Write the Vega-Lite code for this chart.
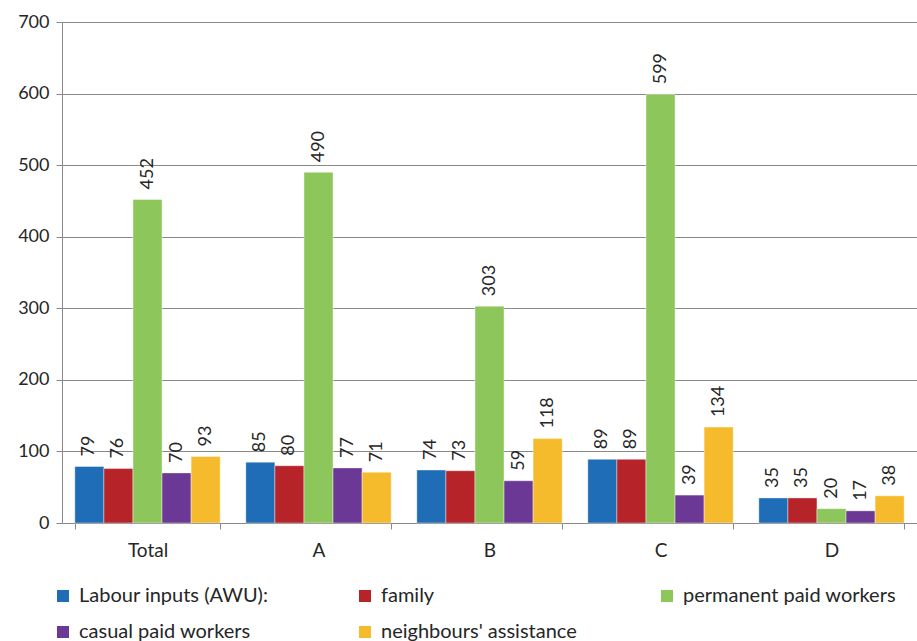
{
  "$schema": "https://vega.github.io/schema/vega-lite/v6.json",
  "width": 855,
  "height": 501,
  "autosize": {"type": "none"},
  "padding": {"left": 62, "top": 22, "right": 0, "bottom": 118},
  "config": {
    "font": "Lato",
    "view": {"stroke": null},
    "axis": {"labelFont": "Lato", "labelColor": "#262626", "labelFontSize": 18}
  },
  "data": {
    "values": [
      {"region": "Total", "series": "Labour inputs (AWU):", "value": 79},
      {"region": "Total", "series": "family", "value": 76},
      {"region": "Total", "series": "permanent paid workers", "value": 452},
      {"region": "Total", "series": "casual paid workers", "value": 70},
      {"region": "Total", "series": "neighbours' assistance", "value": 93},
      {"region": "A", "series": "Labour inputs (AWU):", "value": 85},
      {"region": "A", "series": "family", "value": 80},
      {"region": "A", "series": "permanent paid workers", "value": 490},
      {"region": "A", "series": "casual paid workers", "value": 77},
      {"region": "A", "series": "neighbours' assistance", "value": 71},
      {"region": "B", "series": "Labour inputs (AWU):", "value": 74},
      {"region": "B", "series": "family", "value": 73},
      {"region": "B", "series": "permanent paid workers", "value": 303},
      {"region": "B", "series": "casual paid workers", "value": 59},
      {"region": "B", "series": "neighbours' assistance", "value": 118},
      {"region": "C", "series": "Labour inputs (AWU):", "value": 89},
      {"region": "C", "series": "family", "value": 89},
      {"region": "C", "series": "permanent paid workers", "value": 599},
      {"region": "C", "series": "casual paid workers", "value": 39},
      {"region": "C", "series": "neighbours' assistance", "value": 134},
      {"region": "D", "series": "Labour inputs (AWU):", "value": 35},
      {"region": "D", "series": "family", "value": 35},
      {"region": "D", "series": "permanent paid workers", "value": 20},
      {"region": "D", "series": "casual paid workers", "value": 17},
      {"region": "D", "series": "neighbours' assistance", "value": 38}
    ]
  },
  "encoding": {
    "x": {
      "field": "region", "type": "nominal", "sort": ["Total", "A", "B", "C", "D"],
      "scale": {"paddingInner": 0.15, "paddingOuter": 0.075},
      "axis": {"title": null, "labelAngle": 0, "tickBand": "extent", "tickSize": 6, "tickColor": "#898989", "domainColor": "#898989", "labelPadding": 12, "labelFontSize": 19}
    },
    "xOffset": {
      "field": "series", "type": "nominal",
      "sort": ["Labour inputs (AWU):", "family", "permanent paid workers", "casual paid workers", "neighbours' assistance"],
      "scale": {"paddingInner": 0, "paddingOuter": 0}
    },
    "y": {
      "field": "value", "type": "quantitative",
      "scale": {"domain": [0, 700], "nice": false},
      "axis": {"title": null, "values": [0, 100, 200, 300, 400, 500, 600, 700], "gridColor": "#898989", "domainColor": "#898989", "tickColor": "#898989", "tickSize": 6, "labelPadding": 7}
    }
  },
  "layer": [
    {
      "mark": {"type": "bar", "stroke": "#ffffff", "strokeWidth": 0.4},
      "encoding": {
        "color": {
          "field": "series", "type": "nominal",
          "sort": ["Labour inputs (AWU):", "family", "permanent paid workers", "casual paid workers", "neighbours' assistance"],
          "scale": {
            "domain": ["Labour inputs (AWU):", "family", "permanent paid workers", "casual paid workers", "neighbours' assistance"],
            "range": ["#1f6db6", "#b62328", "#8dc75b", "#6b3995", "#f6bb2c"]
          },
          "legend": {
            "title": null, "orient": "none", "legendX": -9, "legendY": 564,
            "direction": "horizontal", "columns": 3, "gridAlign": "all",
            "symbolType": "square", "symbolSize": 144, "symbolStrokeWidth": 0,
            "labelFontSize": 20, "labelFont": "Lato", "labelColor": "#262626", "labelOffset": 6,
            "columnPadding": 63, "rowPadding": 16, "labelLimit": 400
          }
        }
      }
    },
    {
      "mark": {"type": "text", "angle": 270, "align": "left", "baseline": "middle", "dx": 10, "fontSize": 18, "font": "Lato", "color": "#262626"},
      "encoding": {"text": {"field": "value", "type": "quantitative"}}
    }
  ]
}
